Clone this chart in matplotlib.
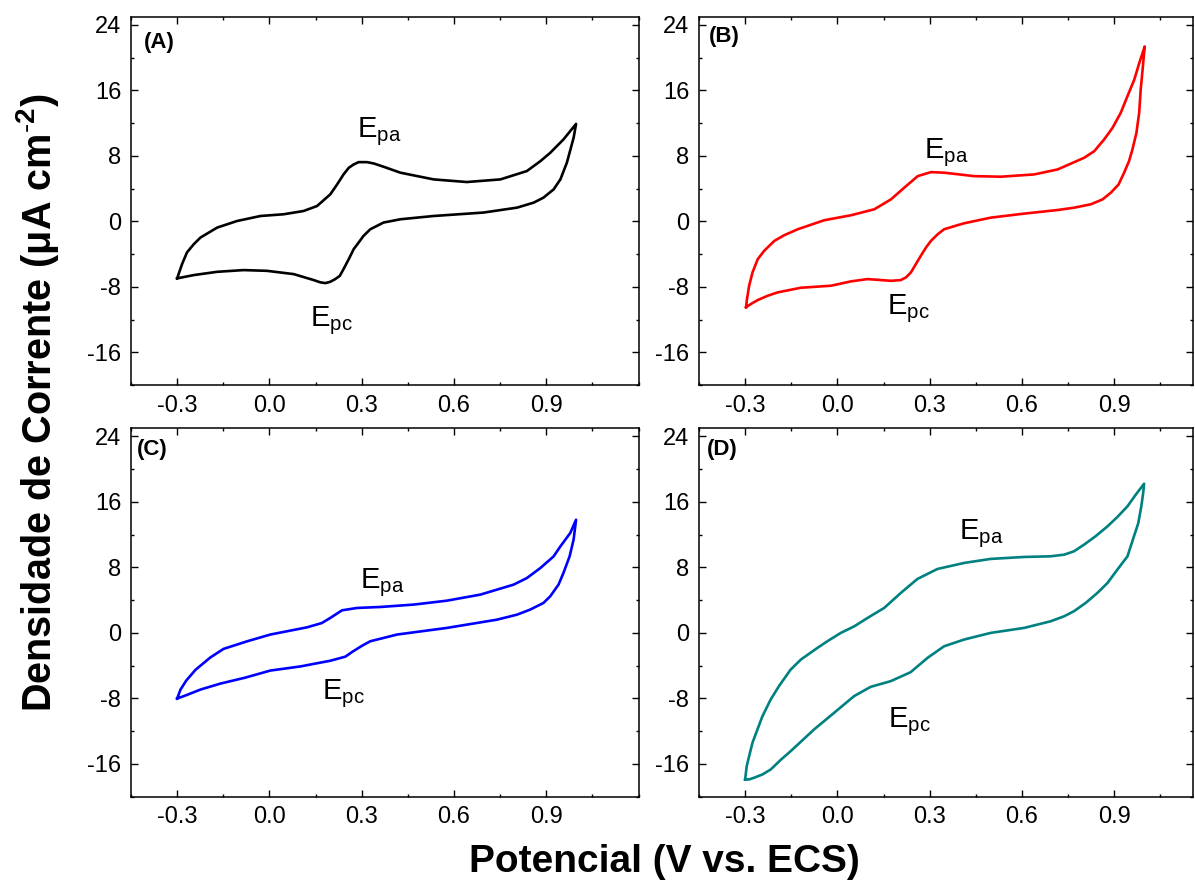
import matplotlib.pyplot as plt
from matplotlib.ticker import MultipleLocator

plt.rcParams['font.family'] = ['Liberation Sans', 'DejaVu Sans']
plt.rcParams['mathtext.fontset'] = 'custom'
plt.rcParams['mathtext.rm'] = 'Liberation Sans'
plt.rcParams['mathtext.bf'] = 'Liberation Sans:bold'

# (A) black: forward scan then reverse scan
a_x = [-0.3, -0.284, -0.268, -0.246, -0.224, -0.17, -0.105, -0.029, 0.046, 0.111, 0.155, 0.198, 0.22,
       0.241, 0.258, 0.274, 0.29, 0.317, 0.339, 0.371, 0.426, 0.534, 0.642, 0.751, 0.837, 0.881,
       0.913, 0.956, 0.997,
       0.989, 0.967, 0.946, 0.924, 0.891, 0.859, 0.805, 0.696, 0.534, 0.426, 0.371, 0.349, 0.328,
       0.306, 0.29, 0.274, 0.258, 0.241, 0.229, 0.214, 0.198, 0.182, 0.166, 0.144, 0.079, -0.008,
       -0.084, -0.17, -0.246, -0.3]
a_y = [-6.97, -5.23, -3.8, -2.8, -1.98, -0.77, 0.04, 0.65, 0.86, 1.26, 1.87, 3.3, 4.5,
       5.73, 6.54, 6.95, 7.23, 7.23, 7.07, 6.67, 5.94, 5.12, 4.8, 5.12, 6.14, 7.35,
       8.37, 10.0, 11.9,
       10.2, 7.15, 5.12, 3.9, 2.89, 2.28, 1.67, 1.07, 0.65, 0.25, -0.15, -0.57, -0.97,
       -1.78, -2.6, -3.4, -4.62, -5.84, -6.66, -7.06, -7.39, -7.55, -7.46, -7.18, -6.45, -6.05,
       -5.96, -6.17, -6.57, -6.97]

# (B) red
b_x = [-0.297, -0.294, -0.287, -0.276, -0.259, -0.238, -0.205, -0.173, -0.129, -0.043, 0.044, 0.12,
       0.174, 0.217, 0.261, 0.304, 0.347, 0.445, 0.531, 0.64, 0.716, 0.802, 0.835, 0.867, 0.894,
       0.921, 0.943, 0.965, 0.981, 0.999,
       0.997, 0.992, 0.986, 0.981, 0.972, 0.959, 0.948, 0.932, 0.914, 0.889, 0.862, 0.824, 0.77,
       0.716, 0.607, 0.499, 0.412, 0.39, 0.347, 0.326, 0.304, 0.288, 0.271, 0.255, 0.239, 0.223,
       0.206, 0.174, 0.098, 0.044, -0.021, -0.119, -0.194, -0.227, -0.259, -0.281, -0.297]
b_y = [-10.5, -9.5, -7.87, -6.24, -4.62, -3.6, -2.39, -1.7, -0.97, 0.13, 0.74, 1.47,
       2.68, 4.1, 5.52, 6.01, 5.94, 5.52, 5.45, 5.73, 6.34, 7.76, 8.57, 10.0, 11.4,
       13.25, 15.3, 17.3, 19.3, 21.36,
       20.55, 18.5, 16.1, 13.25, 10.8, 8.77, 7.35, 5.94, 4.5, 3.5, 2.68, 2.08, 1.67,
       1.38, 0.94, 0.45, -0.24, -0.48, -0.97, -1.58, -2.39, -3.2, -4.22, -5.23, -6.24, -6.85,
       -7.18, -7.27, -7.06, -7.34, -7.87, -8.12, -8.68, -9.1, -9.62, -10.1, -10.5]

# (C) blue
c_x = [-0.3, -0.289, -0.27, -0.24, -0.192, -0.149, -0.072, 0.003, 0.122, 0.17, 0.198, 0.236, 0.285,
       0.361, 0.469, 0.577, 0.686, 0.794, 0.837, 0.881, 0.924, 0.946, 0.978, 0.997,
       0.989, 0.976, 0.956, 0.94, 0.913, 0.891, 0.848, 0.805, 0.74, 0.577, 0.415, 0.328, 0.302,
       0.27, 0.247, 0.198, 0.1, 0.003, -0.078, -0.159, -0.224, -0.273, -0.3]
c_y = [-8.02, -6.92, -5.8, -4.5, -3.0, -1.95, -1.02, -0.2, 0.68, 1.2, 1.83, 2.76, 3.05,
       3.17, 3.46, 3.94, 4.68, 5.9, 6.7, 7.93, 9.35, 10.57, 12.2, 13.83,
       11.4, 9.35, 7.33, 5.9, 4.47, 3.66, 2.85, 2.23, 1.62, 0.61, -0.2, -1.02, -1.55,
       -2.3, -2.9, -3.4, -4.1, -4.6, -5.46, -6.19, -6.92, -7.65, -8.02]

# (D) teal
d_x = [-0.3, -0.295, -0.287, -0.276, -0.26, -0.244, -0.217, -0.19, -0.152, -0.119, -0.065, -0.032,
       0.011, 0.055, 0.098, 0.152, 0.206, 0.26, 0.325, 0.412, 0.498, 0.607, 0.693, 0.737, 0.769,
       0.802, 0.839, 0.878, 0.91, 0.943, 0.97, 0.997,
       0.994, 0.988, 0.978, 0.964, 0.943, 0.91, 0.878, 0.845, 0.807, 0.769, 0.737, 0.693, 0.607,
       0.498, 0.412, 0.347, 0.293, 0.238, 0.173, 0.108, 0.054, -0.011, -0.076, -0.152, -0.184,
       -0.217, -0.244, -0.271, -0.287, -0.3]
d_y = [-17.9, -16.3, -15.06, -13.4, -11.8, -10.2, -8.14, -6.5, -4.48, -3.26, -1.83, -1.0,
       0.0, 0.81, 1.83, 3.05, 4.88, 6.59, 7.81, 8.55, 9.04, 9.28, 9.36, 9.56, 9.97,
       10.79, 11.8, 13.02, 14.16, 15.47, 16.9, 18.23,
       17.1, 15.47, 13.4, 11.8, 9.36, 7.73, 6.1, 4.88, 3.66, 2.65, 2.03, 1.42, 0.61,
       0.0, -0.81, -1.63, -3.05, -4.8, -5.9, -6.59, -7.73, -9.77, -11.8, -14.45, -15.5,
       -16.69, -17.3, -17.7, -17.9, -17.9]

panels = [
    # label, x, y, color, axes rect (px), xmax, label pos, Epa pos, Epc pos
    ('(A)', a_x, a_y, 'black', [131, 16.7, 507.5, 368.3], 1.2, (0.025, 0.959), (0.285, 10.3), (0.133, -12.8)),
    ('(B)', b_x, b_y, '#ff0000', [699, 16.7, 494, 368.3], 1.156, (0.019, 0.975), (0.282, 7.76), (0.161, -11.4)),
    ('(C)', c_x, c_y, '#0000ff', [131, 428.3, 507.5, 368.3], 1.2, (0.011, 0.972), (0.296, 5.5), (0.172, -8.1)),
    ('(D)', d_x, d_y, '#008080', [699, 428.3, 494, 368.3], 1.156, (0.016, 0.972), (0.396, 11.4), (0.163, -11.5)),
]

W, H = 1195, 885
fig = plt.figure(figsize=(W / 100, H / 100), dpi=100)

for lab, xs, ys, col, (l, t, w, h), xmax, lpos, epa, epc in panels:
    ax = fig.add_axes([l / W, 1 - (t + h) / H, w / W, h / H])
    ax.plot(xs, ys, color=col, lw=1.9, solid_joinstyle='round')
    ax.set_xlim(-0.45, xmax)
    ax.set_ylim(-20, 25)
    ax.xaxis.set_minor_locator(MultipleLocator(0.15))
    ax.yaxis.set_minor_locator(MultipleLocator(4))
    ax.set_xticks([-0.3, 0.0, 0.3, 0.6, 0.9])
    ax.set_xticklabels(['-0.3', '0.0', '0.3', '0.6', '0.9'])
    ax.set_yticks([-16, -8, 0, 8, 16, 24])
    ax.set_yticklabels(['-16', '-8', '0', '8', '16', '24'])
    ax.tick_params(which='both', direction='in', top=True, right=True, labelsize=17, width=1)
    ax.tick_params(which='major', length=5, pad=7)
    ax.tick_params(which='minor', length=2.5)
    for s in ax.spines.values():
        s.set_linewidth(1.1)
    ax.text(lpos[0], lpos[1], lab, transform=ax.transAxes, ha='left', va='top',
            fontsize=16, fontweight='bold')
    ax.text(epa[0], epa[1], r'$\mathregular{E_{pa}}$', fontsize=21, ha='left', va='baseline')
    ax.text(epc[0], epc[1], r'$\mathregular{E_{pc}}$', fontsize=21, ha='left', va='baseline')

fig.text(0.031, 0.545, r'Densidade de Corrente (μA cm$^{\mathbf{\text{-}2}}$)', rotation=90,
         ha='center', va='center', fontsize=28.5, fontweight='bold')
fig.text(0.556, 0.026, 'Potencial (V vs. ECS)', ha='center', va='center',
         fontsize=28, fontweight='bold')

fig.savefig('out.png', dpi=100)
